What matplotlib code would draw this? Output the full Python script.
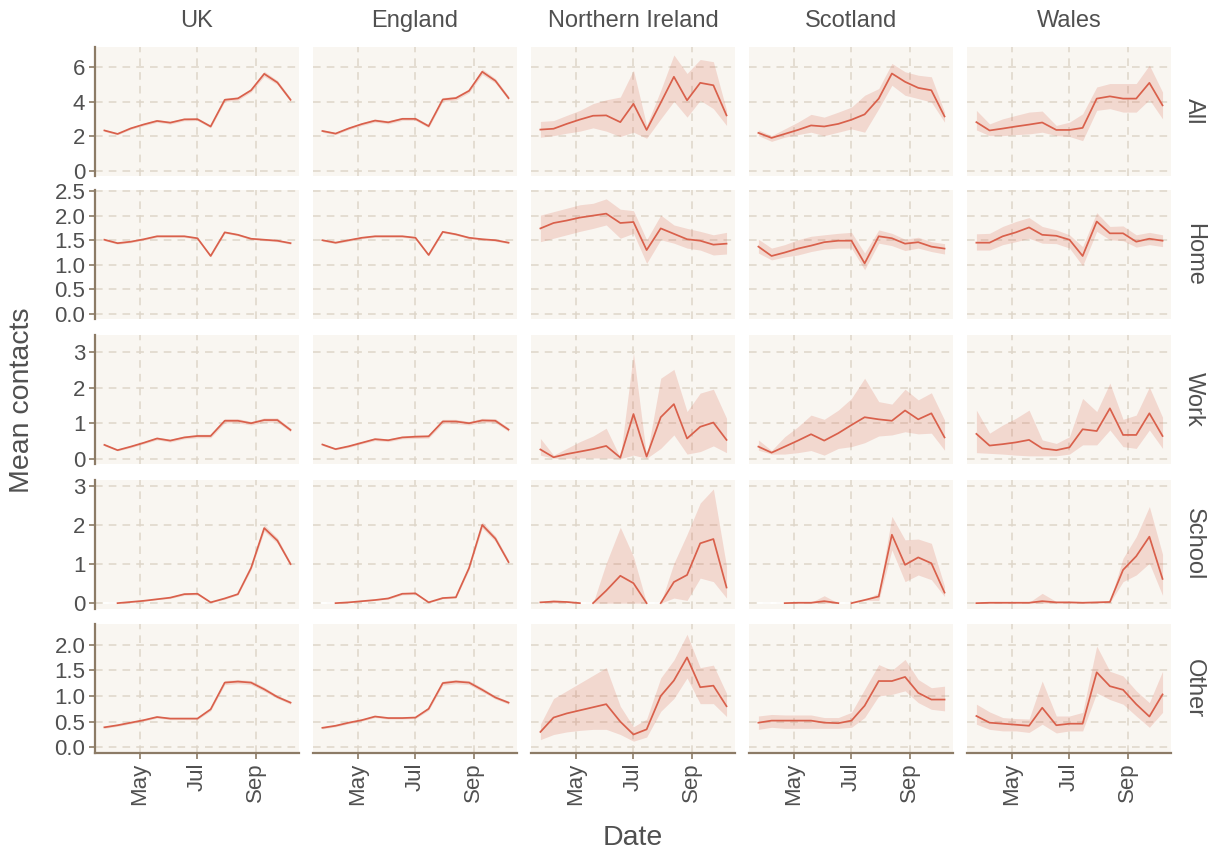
import numpy as np
import matplotlib.pyplot as plt
import matplotlib.dates as mdates

plt.rcParams['font.family'] = ['Liberation Sans', 'DejaVu Sans']

regions = ["UK", "England", "Northern Ireland", "Scotland", "Wales"]
settings = ["All", "Home", "Work", "School", "Other"]

# survey rounds
dates = ["2020-03-24", "2020-04-07", "2020-04-21", "2020-05-05", "2020-05-19",
         "2020-06-02", "2020-06-17", "2020-07-01", "2020-07-15", "2020-07-30",
         "2020-08-13", "2020-08-27", "2020-09-10", "2020-09-24", "2020-10-08"]

# ---- All contacts ----
all_mean = {
    "UK": [2.33, 2.13, 2.45, 2.68, 2.88, 2.78, 2.97, 2.98, 2.56, 4.10, 4.18, 4.65, 5.60, 5.10, 4.10],
    "England": [2.30, 2.15, 2.45, 2.70, 2.90, 2.80, 3.00, 3.00, 2.58, 4.12, 4.20, 4.62, 5.72, 5.20, 4.20],
    "Northern Ireland": [2.38, 2.43, 2.71, 2.96, 3.18, 3.20, 2.81, 3.87, 2.36, 3.93, 5.43, 4.07, 5.08, 4.94, 3.20],
    "Scotland": [2.19, 1.90, 2.13, 2.36, 2.62, 2.56, 2.71, 2.95, 3.26, 4.17, 5.62, 5.14, 4.79, 4.65, 3.14],
    "Wales": [2.81, 2.33, 2.44, 2.56, 2.67, 2.79, 2.36, 2.36, 2.48, 4.17, 4.30, 4.17, 4.17, 5.08, 3.78],
}
all_lo = {
    "UK": [2.27, 2.08, 2.39, 2.61, 2.80, 2.70, 2.89, 2.90, 2.48, 4.00, 4.08, 4.55, 5.45, 4.98, 4.00],
    "England": [2.23, 2.09, 2.38, 2.62, 2.81, 2.71, 2.91, 2.91, 2.49, 4.01, 4.09, 4.51, 5.56, 5.07, 4.09],
    "Northern Ireland": [1.94, 2.03, 2.17, 2.29, 2.48, 2.29, 1.98, 2.23, 1.88, 3.00, 4.01, 3.10, 4.07, 3.59, 2.62],
    "Scotland": [2.03, 1.70, 1.94, 2.09, 2.23, 2.03, 2.23, 2.42, 2.23, 3.59, 4.94, 4.36, 4.17, 3.97, 2.81],
    "Wales": [2.36, 2.03, 2.03, 2.09, 2.13, 2.23, 2.03, 1.98, 1.74, 3.49, 3.59, 3.39, 3.39, 4.11, 3.00],
}
all_hi = {
    "UK": [2.39, 2.18, 2.51, 2.75, 2.96, 2.86, 3.05, 3.06, 2.64, 4.20, 4.28, 4.75, 5.75, 5.22, 4.20],
    "England": [2.37, 2.21, 2.52, 2.78, 2.99, 2.89, 3.09, 3.09, 2.67, 4.23, 4.31, 4.73, 5.88, 5.33, 4.31],
    "Northern Ireland": [2.85, 2.90, 3.20, 3.49, 3.88, 4.10, 4.26, 5.81, 2.62, 4.65, 6.69, 5.62, 6.43, 6.30, 3.49],
    "Scotland": [2.36, 2.03, 2.42, 2.81, 3.26, 3.10, 3.39, 3.68, 4.36, 4.75, 6.20, 5.72, 5.52, 5.43, 3.39],
    "Wales": [3.49, 2.71, 3.00, 3.20, 3.39, 3.45, 2.62, 2.81, 3.29, 4.84, 5.04, 5.04, 5.04, 6.10, 4.55],
}

# ---- Home ----
home_mean = {
    "UK": [1.51, 1.44, 1.47, 1.52, 1.58, 1.58, 1.58, 1.54, 1.18, 1.66, 1.61, 1.53, 1.51, 1.49, 1.44],
    "England": [1.50, 1.45, 1.50, 1.55, 1.58, 1.58, 1.58, 1.55, 1.20, 1.67, 1.62, 1.55, 1.52, 1.50, 1.45],
    "Northern Ireland": [1.74, 1.85, 1.90, 1.96, 2.00, 2.04, 1.85, 1.87, 1.30, 1.74, 1.63, 1.52, 1.49, 1.41, 1.43],
    "Scotland": [1.37, 1.18, 1.25, 1.33, 1.39, 1.46, 1.49, 1.49, 1.03, 1.58, 1.54, 1.43, 1.46, 1.37, 1.33],
    "Wales": [1.45, 1.45, 1.58, 1.66, 1.76, 1.61, 1.59, 1.51, 1.18, 1.88, 1.64, 1.64, 1.47, 1.53, 1.49],
}
home_lo = {
    "UK": [1.49, 1.42, 1.45, 1.50, 1.56, 1.56, 1.56, 1.52, 1.16, 1.64, 1.59, 1.51, 1.49, 1.47, 1.42],
    "England": [1.48, 1.43, 1.48, 1.53, 1.56, 1.56, 1.56, 1.53, 1.18, 1.65, 1.60, 1.53, 1.50, 1.48, 1.43],
    "Northern Ireland": [1.47, 1.54, 1.61, 1.68, 1.74, 1.81, 1.54, 1.64, 1.03, 1.51, 1.44, 1.34, 1.30, 1.20, 1.22],
    "Scotland": [1.24, 1.10, 1.16, 1.20, 1.27, 1.32, 1.34, 1.34, 0.90, 1.44, 1.39, 1.29, 1.34, 1.27, 1.22],
    "Wales": [1.30, 1.30, 1.41, 1.47, 1.54, 1.44, 1.43, 1.34, 0.98, 1.68, 1.51, 1.49, 1.36, 1.41, 1.37],
}
home_hi = {
    "UK": [1.53, 1.46, 1.49, 1.54, 1.60, 1.60, 1.60, 1.56, 1.20, 1.68, 1.63, 1.55, 1.53, 1.51, 1.46],
    "England": [1.52, 1.47, 1.52, 1.57, 1.60, 1.60, 1.60, 1.57, 1.22, 1.69, 1.64, 1.57, 1.54, 1.52, 1.47],
    "Northern Ireland": [2.01, 2.08, 2.15, 2.22, 2.25, 2.34, 2.13, 2.10, 1.51, 2.01, 1.81, 1.74, 1.68, 1.61, 1.66],
    "Scotland": [1.52, 1.34, 1.41, 1.51, 1.58, 1.61, 1.64, 1.66, 1.24, 1.71, 1.64, 1.52, 1.56, 1.47, 1.43],
    "Wales": [1.63, 1.64, 1.78, 1.88, 1.96, 1.78, 1.71, 1.61, 1.37, 2.06, 1.78, 1.79, 1.61, 1.66, 1.61],
}

# ---- Work ----
work_mean = {
    "UK": [0.39, 0.24, 0.34, 0.45, 0.57, 0.51, 0.60, 0.64, 0.64, 1.07, 1.07, 1.00, 1.09, 1.09, 0.81],
    "England": [0.40, 0.27, 0.35, 0.45, 0.55, 0.52, 0.60, 0.62, 0.63, 1.05, 1.05, 1.00, 1.08, 1.07, 0.82],
    "Northern Ireland": [0.26, 0.04, 0.13, 0.20, 0.27, 0.36, 0.03, 1.26, 0.06, 1.17, 1.54, 0.57, 0.90, 1.02, 0.53],
    "Scotland": [0.34, 0.17, 0.34, 0.51, 0.69, 0.51, 0.72, 0.95, 1.17, 1.11, 1.07, 1.36, 1.11, 1.28, 0.60],
    "Wales": [0.70, 0.37, 0.41, 0.46, 0.53, 0.29, 0.24, 0.32, 0.83, 0.78, 1.42, 0.67, 0.67, 1.28, 0.64],
}
work_lo = {
    "UK": [0.36, 0.22, 0.31, 0.42, 0.53, 0.47, 0.56, 0.59, 0.59, 1.01, 1.01, 0.95, 1.03, 1.03, 0.76],
    "England": [0.37, 0.25, 0.32, 0.42, 0.51, 0.48, 0.56, 0.57, 0.58, 0.99, 0.99, 0.95, 1.02, 1.01, 0.77],
    "Northern Ireland": [0.10, 0.01, 0.01, 0.02, 0.02, 0.02, 0.00, 0.10, 0.01, 0.29, 0.67, 0.13, 0.20, 0.36, 0.17],
    "Scotland": [0.24, 0.13, 0.13, 0.17, 0.23, 0.10, 0.29, 0.34, 0.45, 0.64, 0.67, 0.76, 0.70, 0.72, 0.24],
    "Wales": [0.17, 0.15, 0.13, 0.10, 0.08, 0.08, 0.08, 0.13, 0.39, 0.39, 0.81, 0.34, 0.29, 0.81, 0.29],
}
work_hi = {
    "UK": [0.42, 0.26, 0.37, 0.48, 0.61, 0.55, 0.64, 0.69, 0.69, 1.13, 1.13, 1.05, 1.15, 1.15, 0.86],
    "England": [0.43, 0.29, 0.38, 0.48, 0.59, 0.56, 0.64, 0.67, 0.68, 1.11, 1.11, 1.05, 1.14, 1.13, 0.87],
    "Northern Ireland": [0.57, 0.10, 0.29, 0.48, 0.64, 0.86, 0.03, 2.98, 0.06, 2.27, 2.52, 1.33, 1.85, 1.96, 1.14],
    "Scotland": [0.53, 0.23, 0.62, 0.90, 1.23, 1.11, 1.37, 1.70, 2.27, 1.61, 1.54, 1.96, 1.66, 1.86, 1.09],
    "Wales": [1.37, 0.72, 0.95, 1.14, 1.37, 0.53, 0.43, 0.62, 1.70, 1.33, 2.13, 1.11, 1.23, 2.02, 1.17],
}

# ---- School ----
school_mean = {
    "UK": [0.00, 0.00, 0.03, 0.06, 0.10, 0.14, 0.23, 0.24, 0.02, 0.12, 0.23, 0.90, 1.92, 1.60, 1.00],
    "England": [0.00, 0.00, 0.02, 0.05, 0.08, 0.12, 0.24, 0.25, 0.02, 0.13, 0.15, 0.90, 2.00, 1.65, 1.05],
    "Northern Ireland": [0.02, 0.04, 0.03, 0.00, 0.00, 0.32, 0.70, 0.51, 0.00, 0.00, 0.54, 0.72, 1.53, 1.64, 0.40],
    "Scotland": [0.00, 0.00, 0.00, 0.01, 0.01, 0.05, 0.00, 0.00, 0.08, 0.17, 1.75, 0.98, 1.17, 1.02, 0.27],
    "Wales": [0.00, 0.01, 0.01, 0.01, 0.01, 0.05, 0.02, 0.02, 0.01, 0.02, 0.03, 0.85, 1.20, 1.70, 0.62],
}
school_lo = {
    "UK": [0.00, 0.00, 0.02, 0.05, 0.09, 0.12, 0.20, 0.21, 0.01, 0.10, 0.21, 0.85, 1.84, 1.53, 0.96],
    "England": [0.00, 0.00, 0.01, 0.04, 0.07, 0.10, 0.21, 0.22, 0.01, 0.11, 0.13, 0.85, 1.92, 1.58, 1.00],
    "Northern Ireland": [0.01, 0.01, 0.01, 0.00, 0.00, 0.00, 0.00, 0.00, 0.00, 0.00, 0.13, 0.07, 0.64, 0.55, 0.13],
    "Scotland": [0.00, 0.00, 0.00, 0.00, 0.00, 0.00, 0.00, 0.00, 0.07, 0.07, 1.36, 0.55, 0.72, 0.60, 0.17],
    "Wales": [0.00, 0.00, 0.00, 0.00, 0.00, 0.00, 0.00, 0.00, 0.00, 0.00, 0.01, 0.55, 0.72, 1.02, 0.20],
}
school_hi = {
    "UK": [0.00, 0.00, 0.04, 0.07, 0.11, 0.16, 0.26, 0.27, 0.03, 0.14, 0.25, 0.95, 2.00, 1.67, 1.04],
    "England": [0.00, 0.00, 0.03, 0.06, 0.09, 0.14, 0.27, 0.28, 0.03, 0.15, 0.17, 0.95, 2.08, 1.72, 1.10],
    "Northern Ireland": [0.03, 0.09, 0.06, 0.00, 0.00, 1.02, 1.94, 1.19, 0.00, 0.00, 1.02, 1.76, 2.56, 2.92, 0.94],
    "Scotland": [0.00, 0.00, 0.00, 0.02, 0.02, 0.19, 0.00, 0.00, 0.09, 0.26, 2.22, 1.62, 1.64, 1.53, 0.43],
    "Wales": [0.01, 0.02, 0.02, 0.02, 0.02, 0.25, 0.04, 0.04, 0.02, 0.04, 0.05, 1.15, 1.70, 2.47, 1.25],
}

# ---- Other ----
other_mean = {
    "UK": [0.39, 0.43, 0.48, 0.53, 0.59, 0.56, 0.56, 0.56, 0.74, 1.26, 1.28, 1.26, 1.13, 0.98, 0.87],
    "England": [0.38, 0.42, 0.48, 0.53, 0.60, 0.57, 0.57, 0.58, 0.75, 1.25, 1.28, 1.26, 1.12, 0.97, 0.87],
    "Northern Ireland": [0.30, 0.58, 0.66, 0.72, 0.78, 0.84, 0.50, 0.25, 0.35, 1.00, 1.30, 1.75, 1.17, 1.20, 0.80],
    "Scotland": [0.48, 0.52, 0.52, 0.52, 0.52, 0.48, 0.47, 0.52, 0.81, 1.29, 1.29, 1.37, 1.06, 0.93, 0.93],
    "Wales": [0.61, 0.48, 0.46, 0.44, 0.42, 0.77, 0.43, 0.46, 0.46, 1.46, 1.19, 1.12, 0.84, 0.60, 1.03],
}
other_lo = {
    "UK": [0.37, 0.41, 0.46, 0.51, 0.57, 0.54, 0.54, 0.54, 0.71, 1.22, 1.24, 1.22, 1.09, 0.95, 0.84],
    "England": [0.36, 0.40, 0.46, 0.51, 0.58, 0.55, 0.55, 0.56, 0.72, 1.21, 1.24, 1.22, 1.08, 0.94, 0.84],
    "Northern Ireland": [0.15, 0.25, 0.30, 0.33, 0.35, 0.35, 0.25, 0.12, 0.20, 0.70, 0.95, 1.35, 0.85, 0.85, 0.60],
    "Scotland": [0.35, 0.39, 0.37, 0.37, 0.37, 0.37, 0.37, 0.39, 0.58, 1.00, 1.03, 1.10, 0.87, 0.74, 0.71],
    "Wales": [0.45, 0.35, 0.32, 0.32, 0.29, 0.45, 0.28, 0.32, 0.32, 1.06, 0.93, 0.84, 0.61, 0.39, 0.68],
}
other_hi = {
    "UK": [0.41, 0.45, 0.50, 0.55, 0.61, 0.58, 0.58, 0.58, 0.77, 1.30, 1.32, 1.30, 1.17, 1.01, 0.90],
    "England": [0.40, 0.44, 0.50, 0.55, 0.62, 0.59, 0.59, 0.60, 0.78, 1.29, 1.32, 1.30, 1.16, 1.00, 0.90],
    "Northern Ireland": [0.45, 0.95, 1.10, 1.25, 1.40, 1.55, 0.80, 0.40, 0.55, 1.35, 1.70, 2.20, 1.55, 1.60, 1.05],
    "Scotland": [0.61, 0.64, 0.63, 0.63, 0.63, 0.58, 0.58, 0.68, 1.13, 1.61, 1.50, 1.71, 1.32, 1.16, 1.19],
    "Wales": [0.84, 0.69, 0.58, 0.56, 0.55, 1.29, 0.61, 0.61, 0.68, 1.97, 1.48, 1.39, 1.10, 0.87, 1.48],
}

means = {"All": all_mean, "Home": home_mean, "Work": work_mean, "School": school_mean, "Other": other_mean}
lows = {"All": all_lo, "Home": home_lo, "Work": work_lo, "School": school_lo, "Other": other_lo}
highs = {"All": all_hi, "Home": home_hi, "Work": work_hi, "School": school_hi, "Other": other_hi}

# y axis per row
y_limits = {"All": (-0.3, 7.15), "Home": (-0.1, 2.52), "Work": (-0.15, 3.49),
            "School": (-0.15, 3.15), "Other": (-0.11, 2.40)}
y_ticks = {"All": [0, 2, 4, 6], "Home": [0, 0.5, 1.0, 1.5, 2.0, 2.5], "Work": [0, 1, 2, 3],
           "School": [0, 1, 2, 3], "Other": [0, 0.5, 1.0, 1.5, 2.0]}
y_ticklabels = {"All": ["0", "2", "4", "6"], "Home": ["0.0", "0.5", "1.0", "1.5", "2.0", "2.5"],
                "Work": ["0", "1", "2", "3"], "School": ["0", "1", "2", "3"],
                "Other": ["0.0", "0.5", "1.0", "1.5", "2.0"]}

month_ticks = ["2020-05-01", "2020-07-01", "2020-09-01"]
month_labels = ["May", "Jul", "Sep"]
x_range = ["2020-03-14", "2020-10-17"]

line_col = "#D9604B"
panel_bg = "#F9F6F1"
grid_col = "#DED6C9"
axis_col = "#8C7B66"
text_col = "#505050"


def to_num(ds):
    return mdates.date2num(np.array(ds, dtype="datetime64[D]"))


def split_zero_runs(x, y):
    # line broken between two consecutive zero rounds; those pieces returned separately
    xs, ys, zx, zy = [], [], [], []
    for i in range(len(x)):
        if i > 0 and y[i] == 0 and y[i - 1] == 0:
            xs.append(np.nan)
            ys.append(np.nan)
            zx += [x[i - 1], x[i], np.nan]
            zy += [0, 0, np.nan]
        xs.append(x[i])
        ys.append(y[i])
    return np.array(xs), np.array(ys), np.array(zx), np.array(zy)


W, H = 1214, 852
fig = plt.figure(figsize=(W / 100, H / 100), dpi=100)

col_left = [95, 313, 531, 749, 967]
row_top = [47, 190, 335, 480, 624]
pw, ph = 204, 129

x = to_num(dates)
xlim = to_num(x_range)
xt = to_num(month_ticks)

for r, s in enumerate(settings):
    for c, reg in enumerate(regions):
        ax = fig.add_axes([col_left[c] / W, 1 - (row_top[r] + ph) / H, pw / W, ph / H])
        ax.set_facecolor(panel_bg)
        ax.grid(True, color=grid_col, linestyle=(0, (5, 4)), linewidth=1.1)
        ax.set_axisbelow(True)

        m = np.array(means[s][reg])
        lo = np.array(lows[s][reg])
        hi = np.array(highs[s][reg])
        ax.fill_between(x, lo, hi, color=line_col, alpha=0.2, linewidth=0)
        xs, ys, zx, zy = split_zero_runs(x, m)
        if len(zx):
            ax.plot(zx, zy, color="white", linewidth=1.3)
        ax.plot(xs, ys, color=line_col, linewidth=1.25)

        ax.set_xlim(xlim)
        ax.set_ylim(y_limits[s])
        ax.set_xticks(xt)
        ax.set_yticks(y_ticks[s])

        for sp in ax.spines.values():
            sp.set_visible(False)

        if c == 0:
            ax.spines["left"].set_visible(True)
            ax.spines["left"].set_color(axis_col)
            ax.spines["left"].set_linewidth(1.6)
            ax.set_yticklabels(y_ticklabels[s])
            ax.tick_params(axis="y", colors=axis_col, labelcolor=text_col,
                           labelsize=16, length=4, width=1.2, pad=3)
        else:
            ax.tick_params(axis="y", left=False, labelleft=False)

        if r == len(settings) - 1:
            ax.spines["bottom"].set_visible(True)
            ax.spines["bottom"].set_color(axis_col)
            ax.spines["bottom"].set_linewidth(1.6)
            ax.set_xticklabels(month_labels, rotation=90)
            ax.tick_params(axis="x", colors=axis_col, labelcolor=text_col,
                           labelsize=16, length=4, width=1.2, pad=3)
        else:
            ax.tick_params(axis="x", bottom=False, labelbottom=False)

        if r == 0:
            ax.text(0.5, 1 + 26 / ph, reg, transform=ax.transAxes, ha="center", va="center",
                    fontsize=17, color=text_col)
        if c == len(regions) - 1:
            ax.text(1 + 23 / pw, 0.5, s, transform=ax.transAxes, ha="center", va="center",
                    rotation=-90, fontsize=17, color=text_col)

fig.text(22 / W, 1 - 400 / H, "Mean contacts", rotation=90, ha="center", va="center",
         fontsize=20.5, color=text_col)
fig.text(633 / W, 1 - 838 / H, "Date", ha="center", va="center", fontsize=20.5, color=text_col)

fig.savefig("out.png", dpi=100, facecolor="white")
